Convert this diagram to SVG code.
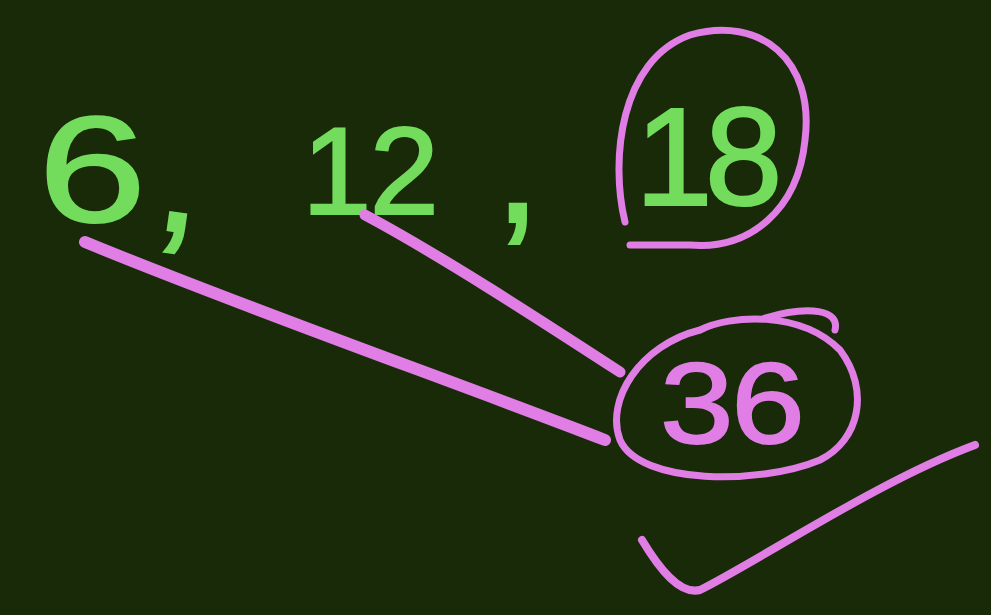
<svg xmlns="http://www.w3.org/2000/svg" width="991" height="615" viewBox="0 0 991 615">
<style>
.g{fill:#74dc5c;stroke:#74dc5c;stroke-width:2;font-family:"Liberation Sans",Arial,sans-serif;font-weight:normal}
.p{fill:none;stroke:#e07ee6;stroke-linecap:round;stroke-linejoin:round}
.pt{fill:#e07ee6;stroke:#e07ee6;stroke-width:2;font-family:"Liberation Sans",Arial,sans-serif}
</style>
<rect width="991" height="615" fill="#182a08"/>
<g id="n6"><text class="g" x="0" y="0" font-size="150" transform="translate(38 222) scale(1.3 1)">6</text></g>
<g id="c1"><text class="g" x="0" y="0" font-size="170" transform="translate(152 228) rotate(8)">,</text></g>
<g id="n12"><text class="g" x="302" y="214" font-size="125" letter-spacing="-2">12</text></g>
<g id="c2"><text class="g" x="0" y="0" font-size="170" transform="translate(494 222)">,</text></g>
<g id="n18">
<text class="g" x="635" y="205" font-size="140" letter-spacing="-8">18</text>
<path class="p" stroke-width="7" d="M625,222 C610,160 620,60 690,35 C760,15 815,60 805,140 C798,210 750,250 690,245 L630,245"/>
</g>
<g id="n36">
<text class="pt" x="0" y="0" font-size="115" letter-spacing="-2" transform="translate(660 443) scale(1.15 1)">36</text>
<path class="p" stroke-width="7" d="M765,318 C810,305 840,310 835,330"/>
<path class="p" stroke-width="7" d="M700,330 C640,345 605,400 620,440 C640,485 760,485 820,460 C860,440 870,390 840,350 C800,310 730,315 700,330"/>
</g>
<g id="connectors">
<path class="p" stroke-width="12" d="M85,242 C250,310 450,380 605,440"/>
<path class="p" stroke-width="11" d="M365,215 C440,255 540,320 620,372"/>
<path class="p" stroke-width="8" d="M642,540 C660,570 680,595 700,590 C760,560 880,480 975,445"/>
</g>
</svg>
